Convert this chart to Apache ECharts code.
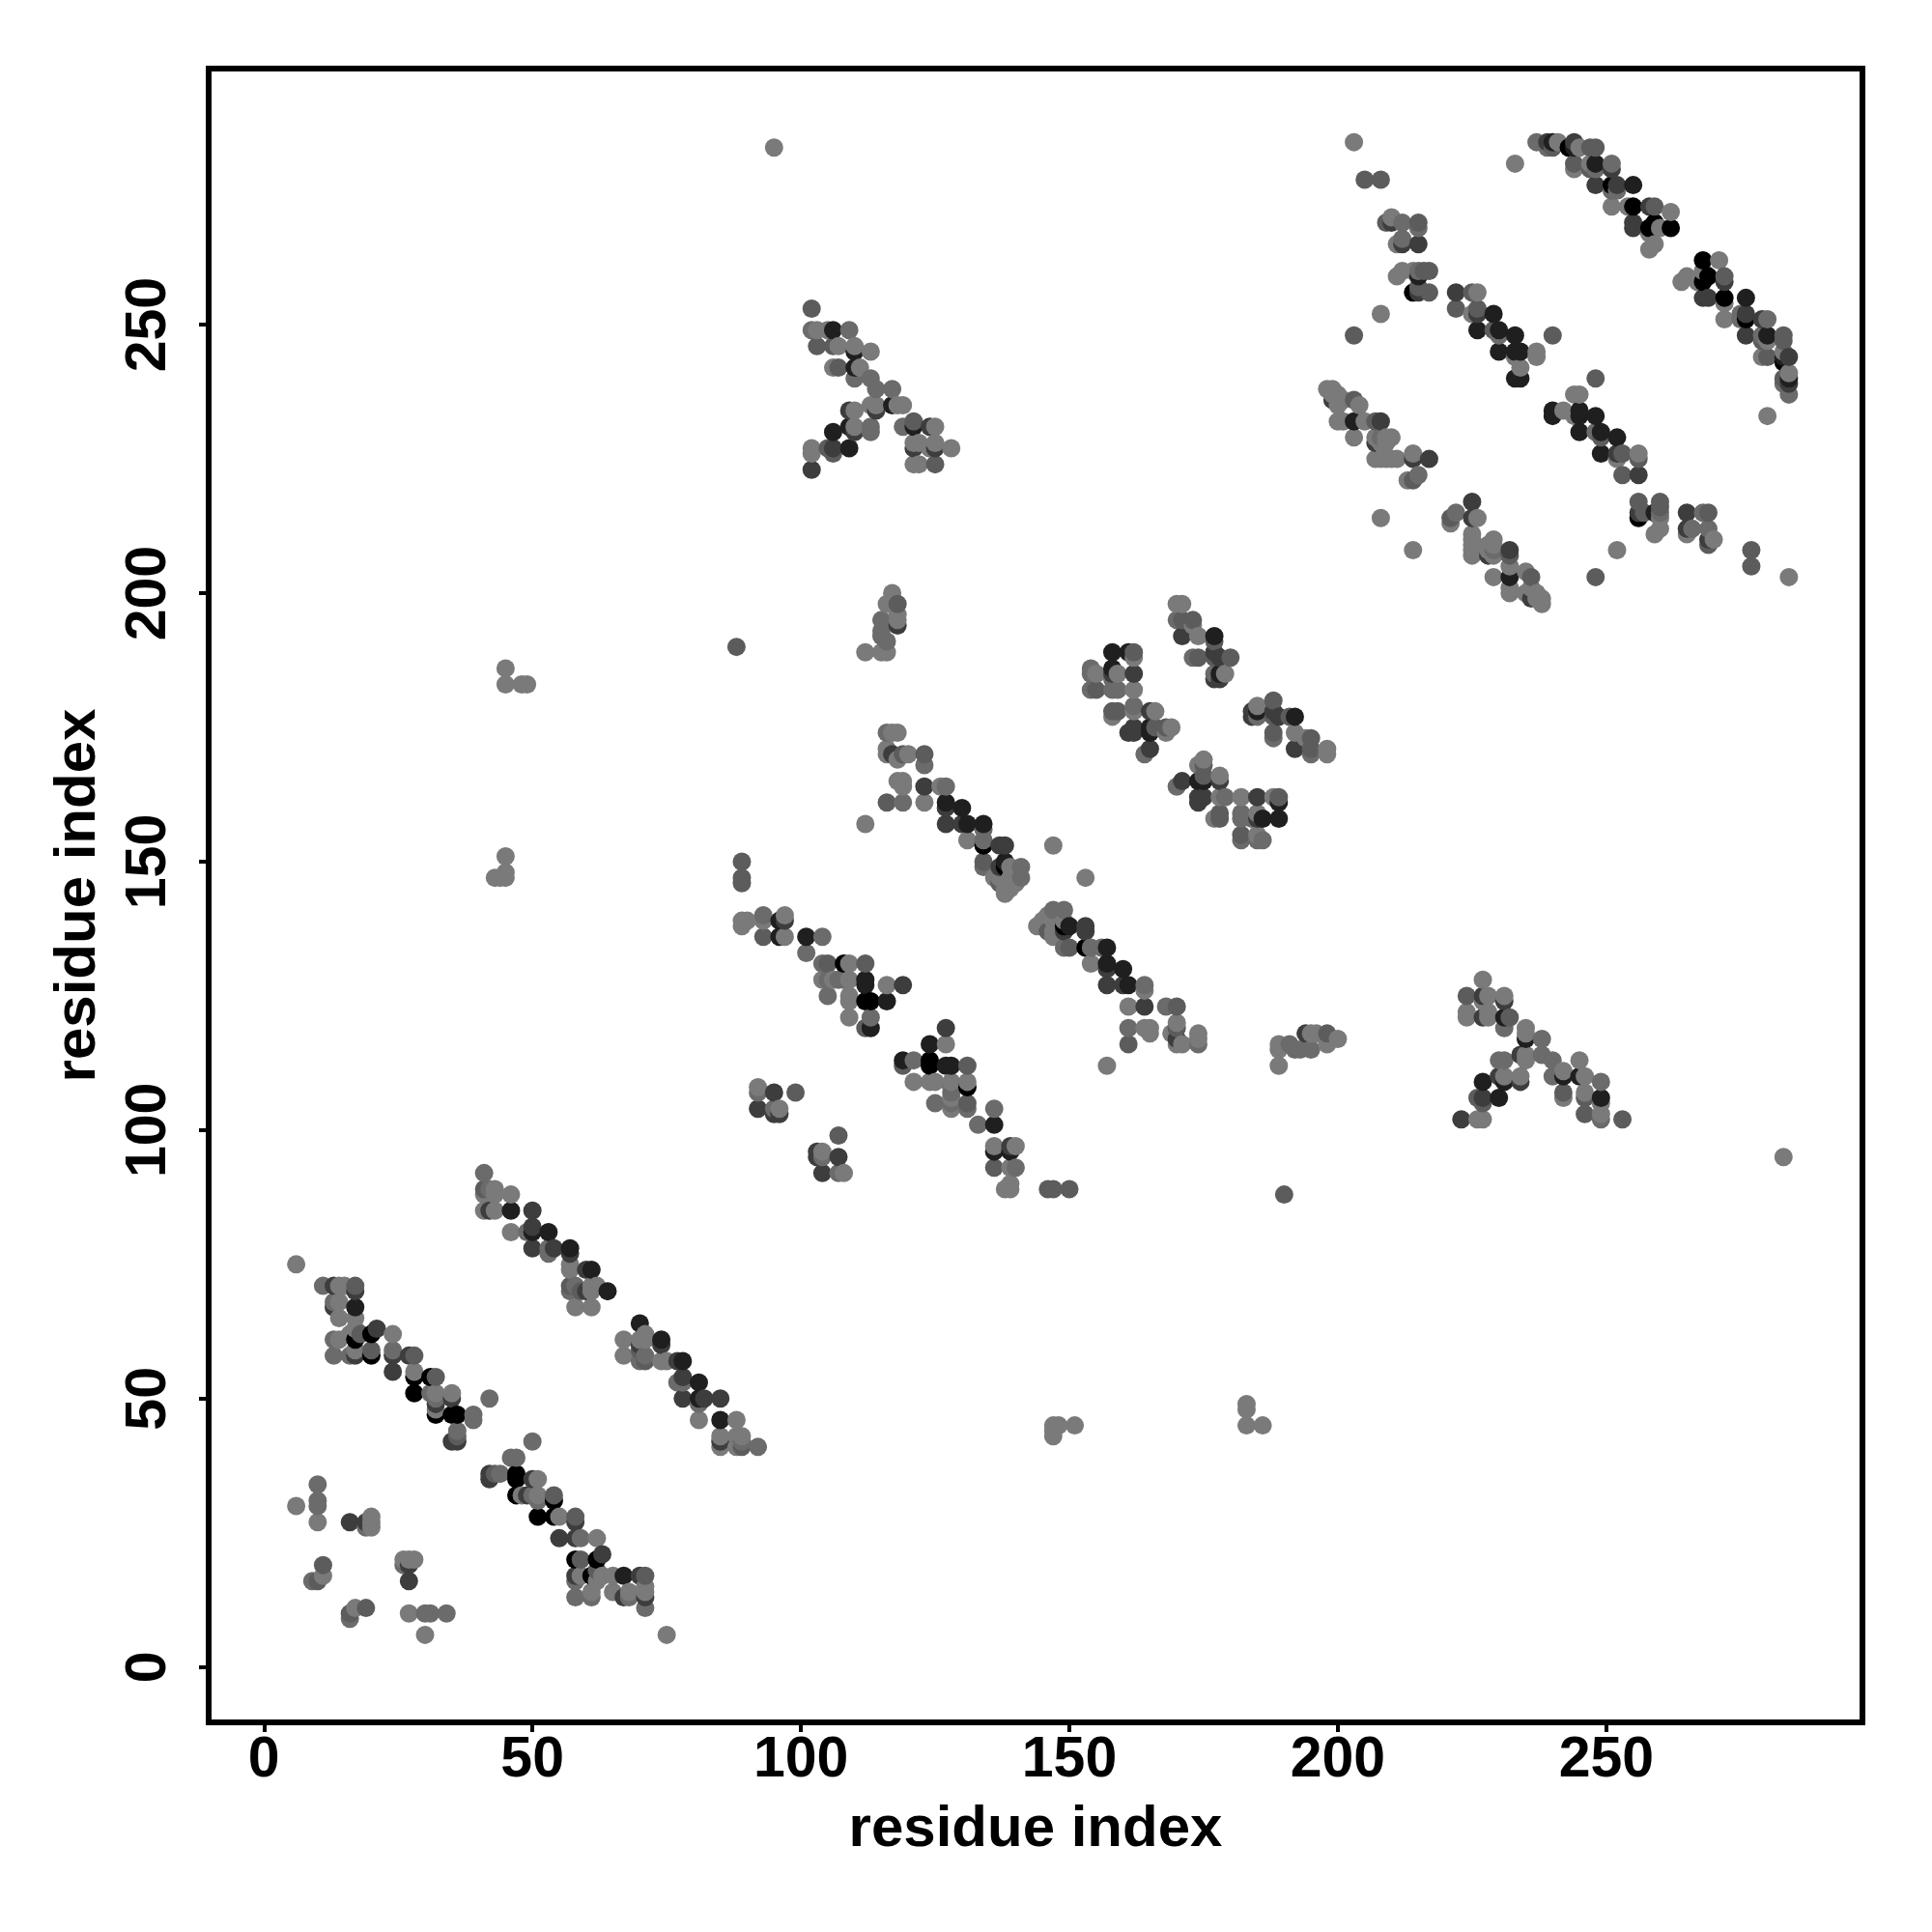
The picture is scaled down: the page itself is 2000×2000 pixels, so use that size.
<!DOCTYPE html>
<html>
<head>
<meta charset="utf-8">
<style>html,body{margin:0;padding:0;background:#fff}#c{width:2000px;height:2000px}</style>
<script src="https://cdn.jsdelivr.net/npm/echarts@6/dist/echarts.min.js"></script>
</head>
<body>
<div id="c"></div>
<script>
// Contacts: [residue i, residue j, contact strength 1..9]; map is symmetric, upper half is listed.
var tickValues = [0, 50, 100, 150, 200, 250];
var axisTitle = 'residue index';
var smallLow = [[6,30,1],[10,34,2],[10,31,2],[10,30,2],[10,27,1],[16,27,5],[19,27,5],[19,26,2],[20,28,1],[20,27,1],[20,26,1],[11,19,3],[11,17,1],[9,16,2],[10,16,3]];
var helixA = [[6,75,1],[11,71,2],[13,71,5],[14,71,1],[15,71,1],[17,71,3],[17,70,5],[17,67,7],[13,68,2],[13,67,5],[14,68,1],[14,65,1],[17,65,1],[13,61,2],[14,61,1],[17,61,9],[16,62,1],[18,62,3],[20,62,9],[21,63,5],[17,63,1],[24,62,1],[13,58,2],[16,58,2],[17,58,5],[17,59,1],[20,58,9],[20,59,3],[24,59,2],[24,58,5],[27,58,5],[28,58,3],[24,55,5],[28,55,1],[28,54,9],[31,54,9],[32,54,3],[28,51,9],[31,51,2],[32,51,1],[35,51,1],[35,50,5],[32,50,2],[32,49,5],[32,48,1],[32,47,9],[35,47,9],[36,47,9],[39,47,2],[39,46,2],[36,44,2],[36,43,3],[35,42,5],[36,42,5],[42,50,2]];
var helixB = [[41,92,2],[41,89,3],[42,89,2],[43,89,1],[43,88,1],[46,88,1],[41,88,1],[41,85,1],[42,85,5],[43,85,1],[46,85,7],[50,85,5],[46,81,1],[49,81,2],[50,81,7],[50,82,5],[53,81,7],[50,78,5],[53,78,2],[54,78,5],[53,77,2],[57,78,7],[57,77,5],[57,75,1],[57,74,1],[60,74,5],[61,74,7],[57,71,3],[58,71,2],[57,70,2],[59,70,3],[60,70,5],[62,71,1],[61,71,1],[61,70,1],[64,70,7],[58,67,1],[61,67,1]];
var sheetC = [[89,139,1],[89,138,1],[90,139,1],[93,140,2],[93,139,1],[93,136,3],[96,139,7],[97,140,1],[97,139,5],[96,136,7],[97,136,1],[101,136,7],[104,136,2],[101,133,2],[104,131,2],[105,131,3],[108,131,9],[109,131,1],[112,131,3],[104,128,1],[105,128,2],[106,128,1],[107,128,2],[108,128,2],[109,128,1],[112,128,7],[112,127,7],[116,127,1],[119,127,5],[105,125,2],[109,125,1],[109,124,1],[112,124,9],[113,124,9],[116,124,7],[109,121,1],[113,121,2],[112,119,3],[113,119,7]];
var smallMid = [[92,108,1],[92,107,2],[95,107,5],[99,107,3],[92,104,5],[95,104,2],[96,104,1],[95,103,5],[96,103,5]];
var sheetD = [[116,174,2],[117,174,1],[118,174,1],[116,171,1],[116,170,1],[117,170,5],[118,169,1],[119,170,3],[120,170,1],[123,170,3],[123,168,2],[118,165,1],[119,165,1],[119,164,1],[123,164,5],[126,164,1],[127,164,2],[116,161,3],[119,161,2],[123,161,1],[127,161,7],[127,160,5],[130,160,7],[112,157,1],[127,157,5],[130,157,5],[131,157,7],[134,157,7],[134,156,2],[131,154,1],[134,154,2],[134,153,9],[137,153,5],[138,153,5],[147,153,1],[134,150,3],[134,149,2],[138,150,7],[138,149,9],[137,149,5],[141,149,2],[139,149,1],[141,147,2],[137,147,1],[136,147,1],[139,147,1],[137,146,3],[138,145,1],[138,144,1],[140,146,1],[139,145,1]];
var turnE = [[102,253,3],[102,249,2],[103,249,1],[105,249,1],[106,249,7],[109,249,2],[103,246,3],[106,246,3],[107,246,1],[110,246,1],[110,245,7],[113,245,1],[106,242,1],[107,242,3],[110,242,7],[111,242,1],[110,240,2],[113,240,2],[114,238,2],[117,238,2],[114,235,1],[114,234,5],[113,235,1],[117,235,7],[118,235,1],[119,235,1],[109,234,5],[110,234,1],[109,231,7],[110,231,1],[110,230,5],[113,231,2],[113,230,2],[119,231,2],[121,232,3],[121,231,7],[124,231,5],[125,231,1],[106,230,7],[102,227,1],[102,226,1],[105,227,3],[106,227,5],[106,226,3],[109,227,7],[121,228,1],[121,227,5],[122,228,1],[125,228,1],[125,227,5],[128,227,1],[124,227,1],[102,223,5],[121,224,1],[122,224,1],[125,224,3]];
var patchF = [[117,200,1],[116,198,1],[118,198,3],[118,196,1],[118,195,1],[118,194,5],[115,195,2],[115,193,2],[115,192,2],[116,191,2],[112,189,1],[115,189,1],[116,189,1]];
var sheetG = [[158,189,7],[161,189,7],[162,189,3],[162,188,1],[154,186,2],[154,185,2],[155,185,1],[158,186,7],[158,185,5],[158,184,2],[159,185,1],[162,185,5],[154,182,2],[155,182,3],[158,182,2],[159,182,2],[162,182,1],[158,178,3],[158,177,1],[159,178,3],[162,179,2],[162,178,1],[165,178,5],[166,178,1],[162,175,5],[161,174,5],[162,174,5],[165,175,7],[165,174,7],[166,175,3],[168,175,3],[168,174,1],[169,175,1],[165,171,5],[164,170,2]];
var sheetH = [[170,198,1],[171,198,1],[170,195,2],[171,195,3],[173,195,3],[173,194,1],[171,192,5],[174,192,1],[177,192,7],[177,191,3],[173,188,2],[174,188,3],[177,189,5],[177,188,3],[178,188,5],[180,188,3],[177,185,2],[178,185,7],[179,185,1],[177,184,5],[178,184,5]];
var sheetI = [[198,238,1],[199,238,1],[199,237,1],[200,237,1],[199,236,5],[201,236,1],[203,236,3],[204,235,1],[200,235,1],[200,232,1],[201,232,1],[203,232,7],[205,232,1],[207,232,3],[208,232,5],[203,229,1],[207,229,1],[208,229,2],[207,228,5],[209,229,1],[210,229,1],[208,228,1],[209,228,1],[207,225,1],[208,225,1],[209,225,1],[210,225,1],[211,225,1],[214,226,1],[214,225,5],[217,225,5],[215,222,2],[214,221,3],[213,221,1],[208,214,1]];
var patchJ = [[203,284,1],[205,277,3],[208,277,3],[210,270,1],[209,269,3],[210,269,5],[212,269,2],[215,269,3],[215,268,2],[211,265,1],[212,266,2],[212,265,5],[215,265,5],[211,259,1],[212,260,1],[214,260,1],[215,260,2],[216,260,3],[217,260,3],[215,259,7],[214,256,9],[215,256,5],[215,257,3],[217,256,3],[208,252,1],[203,248,3]];
var sheetK = [[222,256,5],[225,256,3],[226,256,1],[222,253,3],[225,252,1],[226,253,3],[226,252,5],[229,252,7],[226,249,7],[229,249,3],[230,249,7],[230,248,2],[233,248,7],[240,248,3],[230,245,7],[233,245,7],[234,245,7],[237,245,1],[237,244,1],[233,244,1],[234,242,1],[233,240,7],[234,240,7]];
var sheetL = [[233,280,1],[237,284,2],[239,284,5],[240,284,7],[241,284,1],[240,283,3],[239,283,2],[243,283,9],[244,284,5],[244,283,7],[245,283,1],[247,283,3],[248,283,3],[244,280,3],[244,279,1],[247,280,1],[247,279,3],[248,280,7],[248,279,2],[251,280,2],[251,279,5],[248,276,5],[251,276,9],[252,276,5],[255,276,7],[252,275,2],[251,275,2],[251,272,1],[254,272,1],[255,272,9],[258,272,5],[259,272,3],[262,271,1],[255,269,5],[255,268,5],[258,268,9],[259,269,9],[260,268,1],[262,268,9],[258,267,1],[259,265,1],[258,264,1]];
var singles = [[95,283,1],[88,190,3],[45,186,1],[45,183,1],[48,183,1],[49,183,1],[45,151,1],[45,148,1],[45,147,1],[43,147,1],[44,147,1],[89,150,3],[89,147,3],[89,146,3]];

var upper = [].concat(smallLow, helixA, helixB, sheetC, smallMid, sheetD, turnE, patchF, sheetG, sheetH, sheetI, patchJ, sheetK, sheetL, singles);
var points = [];
upper.forEach(function (p) { points.push([p[0], p[1], p[2]]); points.push([p[1], p[0], p[2]]); });
points.sort(function (a, b) { return a[0] - b[0] || a[1] - b[1]; });

var font = 'Liberation Sans';
var chart = echarts.init(document.getElementById('c'), null, { renderer: 'canvas' });
function axis(extra) {
  return Object.assign({
    type: 'value', min: -10.3, max: 297.7,
    name: axisTitle, nameLocation: 'middle',
    nameTextStyle: { fontFamily: font, fontWeight: 'bold', fontSize: 60, color: '#000' },
    axisLine: { show: false, onZero: false },
    splitLine: { show: false },
    axisTick: { show: true, length: 10, lineStyle: { color: '#000', width: 4 }, customValues: tickValues },
    axisLabel: { show: true, fontFamily: font, fontWeight: 'bold', fontSize: 59, color: '#000', customValues: tickValues }
  }, extra);
}
var xA = axis({ nameGap: 81 });
xA.axisLabel.margin = 10;
var yA = axis({ nameGap: 105 });
yA.axisLabel.rotate = 90;
yA.axisLabel.margin = 32;
chart.setOption({
  animation: false,
  backgroundColor: '#fff',
  grid: { left: 216, top: 71, width: 1712, height: 1712, show: true, borderColor: '#000', borderWidth: 6, backgroundColor: 'transparent', containLabel: false },
  xAxis: xA,
  yAxis: yA,
  visualMap: { show: false, type: 'continuous', dimension: 2, min: 1, max: 9, inRange: { color: ['#7a7a7a', '#000000'] }, seriesIndex: 0 },
  series: [{ type: 'scatter', symbol: 'circle', symbolSize: 19, data: points, silent: true, progressive: 0, large: false, emphasis: { disabled: true }, clip: false, itemStyle: { opacity: 1 } }]
});
</script>
</body>
</html>
